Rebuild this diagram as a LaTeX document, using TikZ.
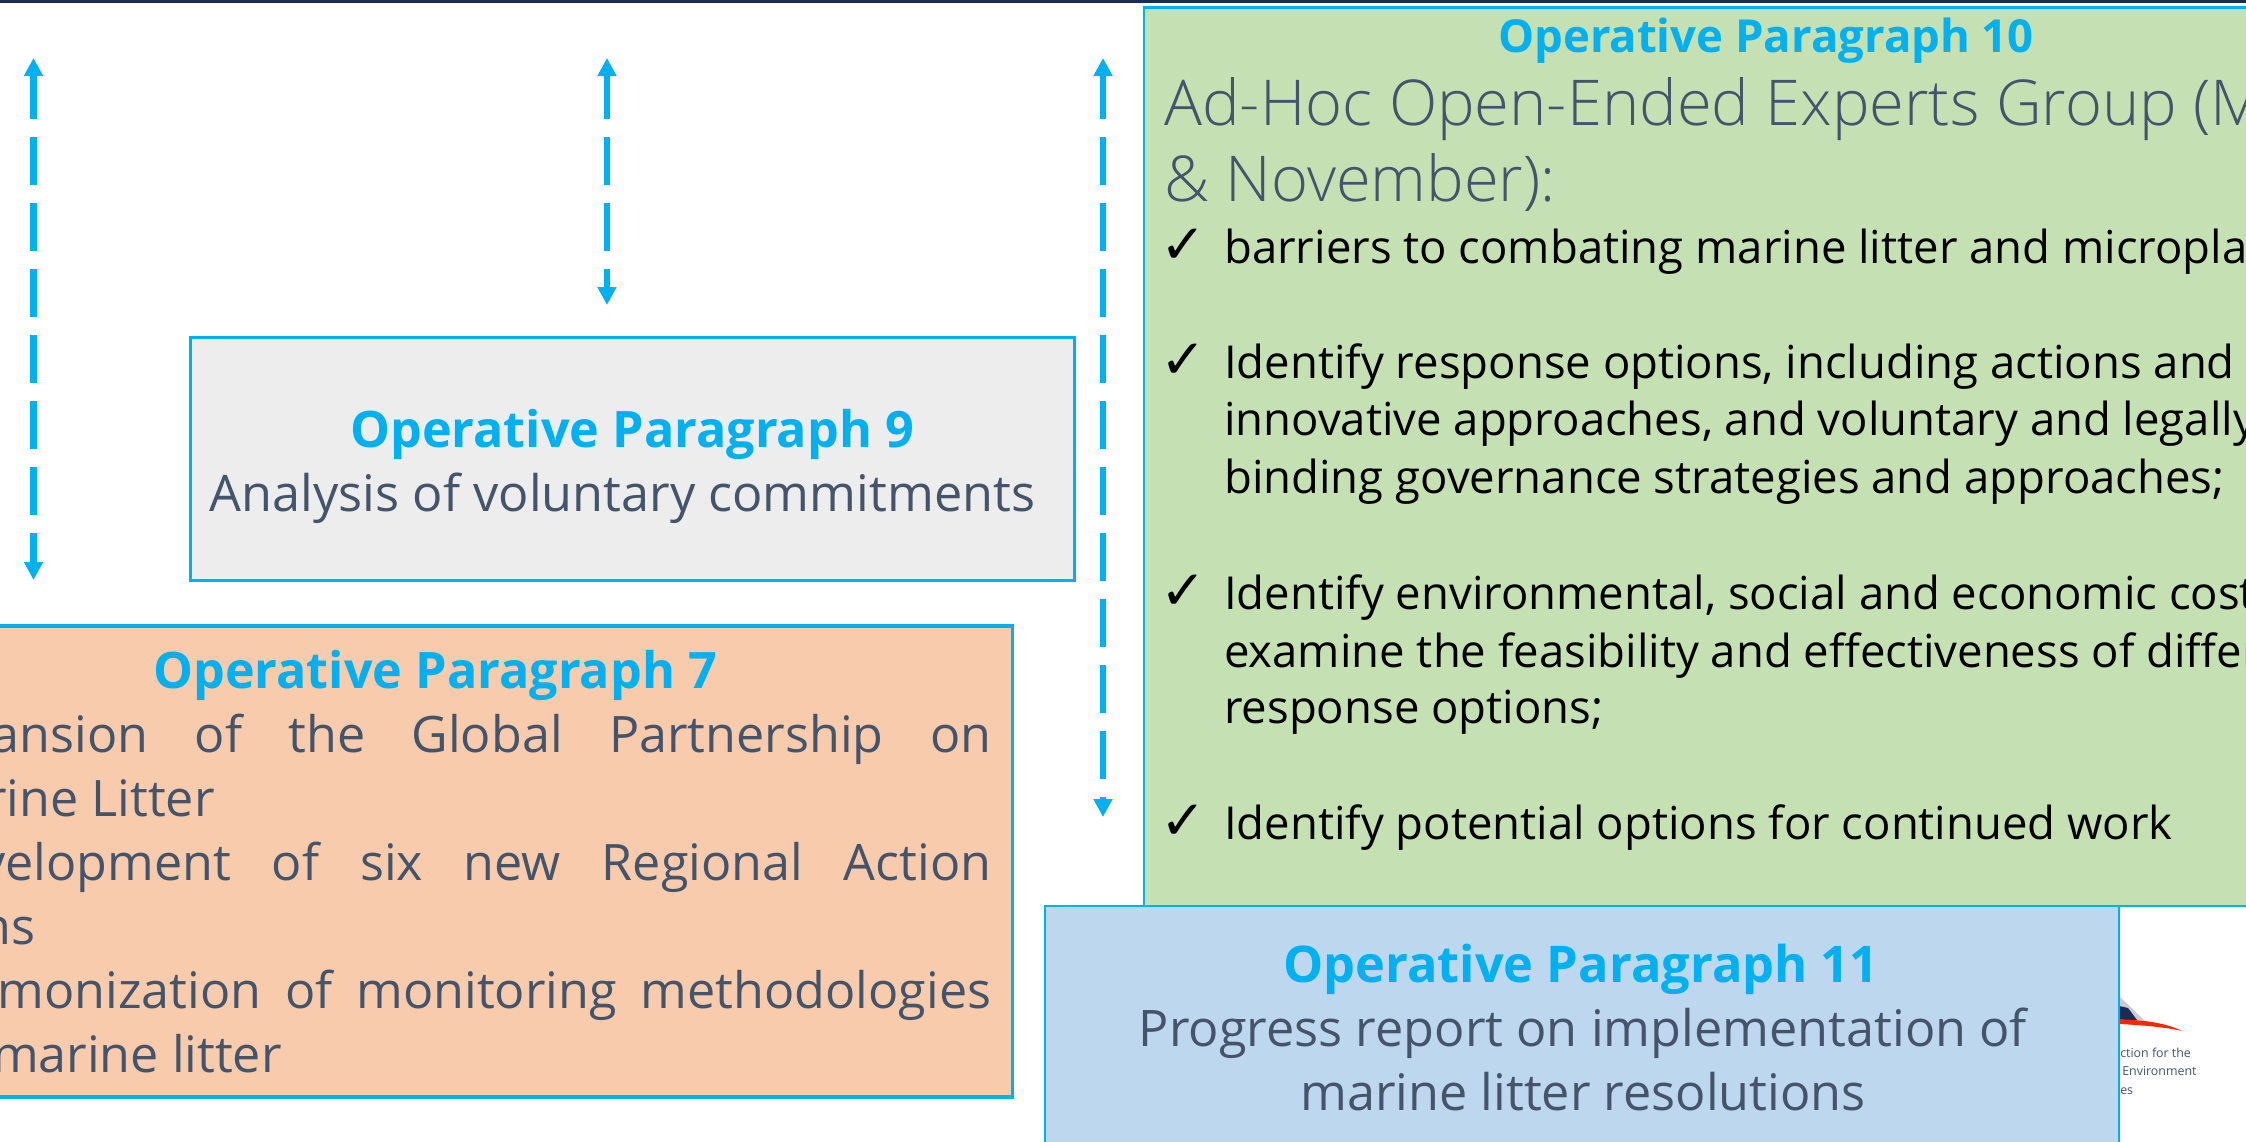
\documentclass[tikz,border=0pt]{standalone}
\usepackage{fontspec}
\setmainfont{Open Sans}
\newfontfamily\lightf{Open Sans Light}
\newfontfamily\chk{DejaVu Sans}
\definecolor{cy}{HTML}{00B0F0}
\definecolor{sl}{HTML}{44546A}
\definecolor{navy}{HTML}{1B2A57}
\definecolor{gr}{HTML}{EDEDED}
\definecolor{org}{HTML}{F7CBAC}
\definecolor{grn}{HTML}{C5E0B3}
\definecolor{blu}{HTML}{BDD7EE}
\usetikzlibrary{arrows.meta}
\newcommand{\fs}[1]{\fontsize{#1}{#1}\selectfont}
\tikzset{
 x=0.75pt,y=-0.75pt,
 box/.style={draw=cy,line width=2.4pt,inner sep=0pt,outer sep=0pt},
 ttl/.style={text=cy,font=\fs{37.7}\bfseries,anchor=base,inner sep=0pt},
 slate/.style={text=sl,font=\fs{37.8},anchor=base,inner sep=0pt},
 slatew/.style={text=sl,font=\fs{37.7},anchor=base west,inner sep=0pt},
 slatee/.style={text=sl,font=\fs{37.7},anchor=base east,inner sep=0pt},
 big/.style={text=sl,font=\lightf\fs{47.4},anchor=base west,inner sep=0pt},
 blk/.style={text=black,font=\fs{34.1},anchor=base west,inner sep=0pt},
 tick/.style={text=black,font=\chk\fs{41},anchor=base west,inner sep=0pt},
 dasharrow/.style={draw=cy,line width=4.6pt,dash pattern=on 36pt off 13.5pt,dash phase=3pt,{Triangle[length=13.5pt,width=13.5pt]}-{Triangle[length=13.5pt,width=13.5pt]}},
 logotxt/.style={text=sl,font=\fs{9.3},anchor=base west,inner sep=0pt},
}
\begin{document}
\begin{tikzpicture}
\useasboundingbox (0,0) rectangle (2246,1142);
\fill[white] (0,0) rectangle (2246,1142);
\fill[navy] (0,0) rectangle (2246,2.5);
% arrow end points
\coordinate (a1t) at (33.5,58); \coordinate (a1b) at (33.5,580);
\coordinate (a2t) at (607,58);  \coordinate (a2b) at (607,305);
\coordinate (a3t) at (1103,58); \coordinate (a3b) at (1103,817);
\draw[dasharrow] (a1t) -- (a1b);
\draw[dasharrow] (a2t) -- (a2b);
\draw[dasharrow] (a3t) -- (a3b);
% logo fragment
\fill[gray!40] (2119,996) -- (2145,1021) -- (2119,1021) -- cycle;
\fill[navy] (2119,1006) -- (2128,1008) -- (2137,1020) -- (2119,1020) -- cycle;
\fill[red!70!orange] (2119,1019) -- (2145,1021) .. controls (2160,1023) and (2172,1026) .. (2182,1031) .. controls (2165,1027) and (2140,1025) .. (2119,1024) -- cycle;
\node[logotxt] (l1) at (2120,1057) {ction for the};
\node[logotxt] (l2) at (2122,1075) {Environment};
\node[logotxt] (l3) at (2120,1094) {es};
% grey box
\node[box,fill=gr,minimum width=884*0.75pt,minimum height=243*0.75pt,anchor=north west] (g) at (190.5,337.5) {};
\node[ttl] (g1) at (632,447) {Operative Paragraph 9};
\node[slate] (g2) at (622.5,511) {Analysis of voluntary commitments};
% orange box
\filldraw[draw=cy,line width=2.4pt,fill=org] (-10,626) rectangle (1012.5,1097);
\node[ttl] (o0) at (435,688.5) {Operative Paragraph 7};
\node[slatew] (o1) at (148,752) {\hbox to 632.25pt{\llap{ansion}\hfill of\hfill the\hfill Global\hfill Partnership\hfill on}};
\node[slatee] (o2) at (215,816) {rine Litter};
\node[slatew] (o3) at (231,880) {\hbox to 570pt{\llap{velopment}\hfill of\hfill six\hfill new\hfill Regional\hfill Action}};
\node[slatee] (o4) at (36,944) {ns};
\node[slatew] (o5) at (261,1008) {\hbox to 547.5pt{\llap{monization}\hfill of\hfill monitoring\hfill methodologies}};
\node[slatee] (o6) at (282,1072) {marine litter};
% green box
\filldraw[draw=cy,line width=2pt,fill=grn] (1144,7.5) rectangle (2260,906);
\node[ttl,font=\fs{34.1}\bfseries] (t0) at (1766,52) {Operative Paragraph 10};
\node[big] (t1) at (1164,125) {Ad-Hoc Open-Ended Experts Group (M};
\node[big] (t2) at (1164,201) {\& November):};
\node[tick] (c1) at (1160,263) {✓};
\node[blk] (b1) at (1224,263) {barriers to combating marine litter and microplas};
\node[tick] (c2) at (1160,378) {✓};
\node[blk] (b2) at (1224,378) {Identify response options, including actions and};
\node[blk] (b3) at (1224,435) {innovative approaches, and voluntary and legally};
\node[blk] (b4) at (1224,493) {binding governance strategies and approaches;};
\node[tick] (c3) at (1160,609) {✓};
\node[blk] (b5) at (1224,609) {Identify environmental, social and economic cost};
\node[blk] (b6) at (1224,667) {examine the feasibility and effectiveness of differ};
\node[blk] (b7) at (1224,723) {response options;};
\node[tick] (c4) at (1160,839) {✓};
\node[blk] (b8) at (1224,839) {Identify potential options for continued work};
% blue box
\filldraw[draw=cy,line width=2pt,fill=blu] (1045,906) rectangle (2119,1160);
\node[ttl,font=\fs{37.9}\bfseries] (u0) at (1581,982) {Operative Paragraph 11};
\node[slate] (u1) at (1583,1046) {Progress report on implementation of};
\node[slate] (u2) at (1583,1110) {marine litter resolutions};
\end{tikzpicture}
\end{document}
